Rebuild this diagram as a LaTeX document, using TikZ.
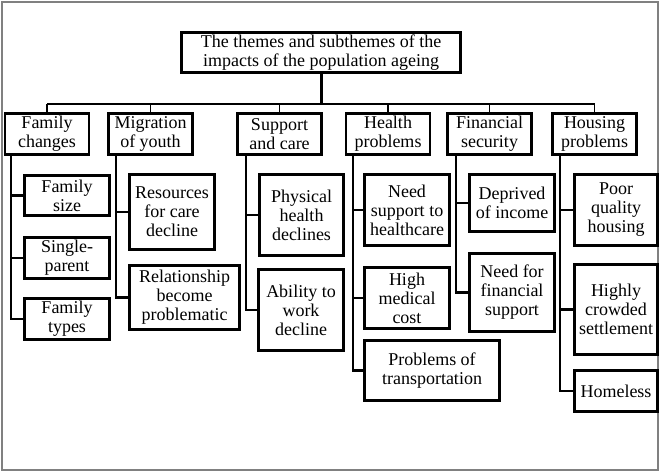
\documentclass[tikz,border=0pt]{standalone}
\usepackage{fontspec}
\setmainfont{Liberation Serif}
\usepackage{tikz}

\begin{document}
\begin{tikzpicture}[x=1pt,y=-1pt,every node/.style={font=\fontsize{18}{19}\selectfont},
  box/.style={draw,line width=2.6pt,align=center,inner sep=1pt,minimum width=85pt},
  link/.style={line width=2.4pt}, drop/.style={line width=1.6pt}]

  \useasboundingbox (0,0) rectangle (662,472);
  \draw[gray,line width=1.2pt] (2,2) rectangle (658,470);

  % title
  \node[box,minimum width=279pt,minimum height=40pt] (title) at (321,52.5)
    {The themes and subthemes of the\\impacts of the population ageing};

  % themes
  \node[box,minimum width=84pt,minimum height=41pt] (fam) at (47,134)    {Family\\changes};
  \node[box,minimum width=84pt,minimum height=41pt] (mig) at (150.5,134) {Migration\\of youth};
  \node[box,minimum width=84pt,minimum height=41pt] (sup) at (279.5,134) {Support\\and care};
  \node[box,minimum width=84pt,minimum height=41pt] (hea) at (388,134)   {Health\\problems};
  \node[box,minimum width=84pt,minimum height=41pt] (fin) at (489.5,134) {Financial\\security};
  \node[box,minimum width=84pt,minimum height=41pt] (hou) at (594.5,134) {Housing\\problems};

  % bus
  \coordinate (bus) at (0,104);
  \draw[line width=3pt] (title.south) -- (title.south |- bus);
  \draw[drop] (fam.north |- bus) -- (hou.north |- bus);
  \foreach \t in {fam,mig,sup,hea,fin,hou}
    \draw[drop] (\t.north) -- (\t.north |- bus);

  % subthemes
  \node[box,minimum height=40pt] (fsize) at (67,195.5) {Family\\size};
  \node[box,minimum height=41pt] (fsing) at (67,258)   {Single-\\parent};
  \node[box,minimum height=41pt] (ftype) at (67,319)   {Family\\types};

  \node[box,minimum height=75pt] (mres) at (172,212) {Resources\\for care\\decline};
  \node[box,minimum width=110pt,minimum height=64pt] (mrel) at (184.5,297.5)
    {Relationship\\become\\problematic};

  \node[box,minimum width=84pt,minimum height=81pt] (sphy) at (301.5,215) {Physical\\health\\declines};
  \node[box,minimum height=81pt] (sabi) at (301,310) {Ability to\\work\\decline};

  \node[box,minimum height=71pt] (hneed) at (407,210) {Need\\support to\\healthcare};
  \node[box,minimum height=61pt] (hcost) at (407,298) {High\\medical\\cost};
  \node[box,minimum width=135pt,minimum height=60pt] (htran) at (432,370.5)
    {Problems of\\transportation};

  \node[box,minimum height=57pt] (fdep) at (512,203)   {Deprived\\of income};
  \node[box,minimum height=78pt] (fneed) at (512,292.5) {Need for\\financial\\support};

  \node[box,minimum width=83pt,minimum height=71pt] (hpoor) at (616,210)   {Poor\\quality\\housing};
  \node[box,minimum width=83pt,minimum height=90pt] (hcrow) at (616,309.5) {Highly\\crowded\\settlement};
  \node[box,minimum width=83pt,minimum height=41pt] (hhome) at (616,391)   {Homeless};

  % links
  \foreach \p/\c/\s in {fam/fsize/7pt, fam/fsing/7pt, fam/ftype/7pt,
      mig/mres/9pt, mig/mrel/9pt, sup/sphy/10pt, sup/sabi/10pt,
      hea/hneed/8pt, hea/hcost/8pt, hea/htran/8pt,
      fin/fdep/10pt, fin/fneed/10pt,
      hou/hpoor/9pt, hou/hcrow/9pt, hou/hhome/9pt}
    \draw[link] ([xshift=\s]\p.south west) |- (\c.west);

\end{tikzpicture}
\end{document}
